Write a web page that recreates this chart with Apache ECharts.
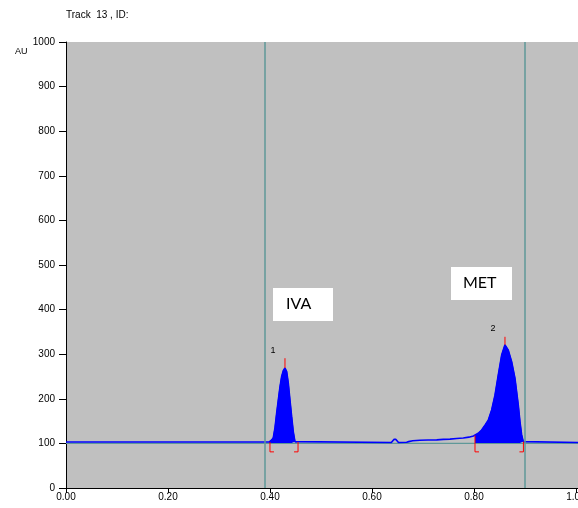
<!DOCTYPE html>
<html>
<head>
<meta charset="utf-8">
<script src="https://cdn.jsdelivr.net/npm/echarts@6/dist/echarts.min.js"></script>
<style>
html,body{margin:0;padding:0;background:#fff;}
#c{width:578px;height:508px;}
</style>
</head>
<body>
<div id="c"></div>
<script>
// ---- data ----
const titleText = 'Track  13 , ID:';
const yUnit = 'AU';
const xTicks = [0.0, 0.2, 0.4, 0.6, 0.8, 1.0];
const yTicks = [0, 100, 200, 300, 400, 500, 600, 700, 800, 900, 1000];

// baseline (flat) trace before/between/after peaks
const traceBeforeX = [0.000, 0.390, 0.398];
const traceBeforeY = [103, 103, 103];

const peak1X = [0.398, 0.400, 0.4035, 0.4065, 0.4098, 0.4131, 0.4163, 0.4196, 0.4229, 0.4261, 0.4294, 0.4327, 0.4359, 0.4392, 0.4425, 0.4457, 0.4490, 0.4520];
const peak1Y = [103, 104, 108, 113, 135, 168, 197, 227, 250, 263, 269, 261, 235, 197, 160, 126, 104, 102.5];

const traceMidX = [0.452, 0.638, 0.641, 0.643, 0.645, 0.647, 0.649, 0.652, 0.668, 0.672, 0.680, 0.694, 0.710, 0.727, 0.740, 0.753, 0.766, 0.779, 0.790, 0.799, 0.802];
const traceMidY = [102.5, 102, 105, 109, 111, 109, 105, 102, 102.5, 104, 106, 107, 107.5, 108, 109, 109.5, 111, 112, 114, 116.5, 118];

const peak2X = [0.802, 0.8084, 0.8151, 0.8216, 0.8280, 0.8347, 0.8412, 0.8476, 0.8543, 0.8608, 0.8673, 0.8739, 0.8804, 0.8869, 0.8902, 0.8935, 0.8967, 0.9000];
const peak2Y = [118, 122.6, 130, 141, 152, 175, 208, 253, 298, 321, 309, 283, 246, 186, 149, 119, 104, 102];

const traceAfterX = [0.900, 1.004];
const traceAfterY = [102, 102];

const baselineX = [0, 1.004];
const baselineY = [100, 100];
const markerLinesX = [0.39, 0.90];

// peak integration markers
const peakNames = ['1', '2'];
const peakStartX = [0.400, 0.802];
const peakStartY = [103, 118];
const peakEndX = [0.455, 0.897];
const peakEndY = [103, 104];
const peakApexX = [0.4294, 0.8608];
const peakApexY = [269, 321];
const peakTickTop = [291, 339];
const bracketBottom = 81;

// compound annotations
const compoundNames = ['IVA', 'MET'];

// ---- build ----
const zip = (xs, ys) => xs.map((x, i) => [x, ys[i]]);
const fullTrace = [].concat(
  zip(traceBeforeX, traceBeforeY),
  zip(peak1X, peak1Y),
  zip(traceMidX, traceMidY),
  zip(peak2X, peak2Y),
  zip(traceAfterX, traceAfterY)
);
const markerData = peakNames.map((n, i) => [peakStartX[i], peakStartY[i], peakEndX[i], peakEndY[i], peakApexX[i], peakApexY[i], peakTickTop[i], i]);

const FONT = "'Liberation Sans', Arial, sans-serif";
const TEAL = '#5f9898';
const BLUE = '#0000ff';
const RED = '#ff0000';

const chart = echarts.init(document.getElementById('c'), null, {renderer: 'canvas'});
chart.setOption({
  animation: false,
  backgroundColor: '#ffffff',
  title: {
    text: titleText, left: 66, top: 10, padding: 0,
    textStyle: {fontFamily: FONT, fontSize: 10, fontWeight: 'normal', color: '#000'}
  },
  grid: {left: 66, right: 0, top: 42, bottom: 20, show: true, backgroundColor: '#c0c0c0', borderWidth: 0,
         containLabel: false, outerBoundsMode: 'none'},
  xAxis: {
    type: 'value', min: 0, max: 1.004, interval: 0.2,
    axisLine: {show: true, onZero: false, lineStyle: {color: '#000', width: 1}},
    axisTick: {show: true, length: 5, lineStyle: {color: '#000'}},
    axisLabel: {
      fontFamily: FONT, fontSize: 10, color: '#000', margin: 4, hideOverlap: false,
      formatter: v => xTicks.some(t => Math.abs(t - v) < 1e-6) ? v.toFixed(2) : ''
    },
    splitLine: {show: false}
  },
  yAxis: {
    type: 'value', min: 0, max: 1000, interval: 100,
    axisLine: {show: true, lineStyle: {color: '#000', width: 1}},
    axisTick: {show: true, length: 7, lineStyle: {color: '#000'}},
    axisLabel: {
      fontFamily: FONT, fontSize: 10, color: '#000', margin: 11,
      formatter: v => yTicks.includes(v) ? String(v) : ''
    },
    splitLine: {show: false}
  },
  graphic: [
    {type: 'text', left: 15, top: 47, style: {text: yUnit, font: "9px 'Liberation Sans', Arial", fill: '#000'}},
    {type: 'group', left: 273, top: 288, children: [
      {type: 'rect', shape: {x: 0, y: 0, width: 60, height: 33}, style: {fill: '#fff'}},
      {type: 'text', x: 13, y: 8, style: {text: compoundNames[0], font: "16px Lato, 'Open Sans', sans-serif", fill: '#000'}}
    ]},
    {type: 'group', left: 451, top: 267, children: [
      {type: 'rect', shape: {x: 0, y: 0, width: 61, height: 33}, style: {fill: '#fff'}},
      {type: 'text', x: 12, y: 8, style: {text: compoundNames[1], font: "16px Lato, 'Open Sans', sans-serif", fill: '#000'}}
    ]}
  ],
  series: [
    {
      name: 'baseline', type: 'line', data: zip(baselineX, baselineY), showSymbol: false, z: 1,
      lineStyle: {color: TEAL, width: 1.2},
      markLine: {
        silent: true, symbol: 'none', label: {show: false},
        lineStyle: {color: TEAL, width: 1.5, type: 'solid'},
        data: markerLinesX.map(x => ({xAxis: x}))
      }
    },
    {
      name: 'peak1', type: 'line', data: zip(peak1X, peak1Y), showSymbol: false, z: 2,
      lineStyle: {color: BLUE, width: 1}, areaStyle: {color: BLUE, opacity: 1, origin: 101}
    },
    {
      name: 'peak2', type: 'line', data: zip(peak2X, peak2Y), showSymbol: false, z: 2,
      lineStyle: {color: BLUE, width: 1}, areaStyle: {color: BLUE, opacity: 1, origin: 101}
    },
    {
      name: 'signal', type: 'line', data: fullTrace, showSymbol: false, z: 3,
      lineStyle: {color: BLUE, width: 1.6}
    },
    {
      name: 'markers', type: 'custom', z: 4, data: markerData,
      renderItem: function (params, api) {
        const sx = api.value(0), sy = api.value(1), ex = api.value(2), ey = api.value(3);
        const ax = api.value(4), ay = api.value(5), at = api.value(6), idx = api.value(7);
        const s0 = api.coord([sx, sy]), s1 = api.coord([sx, bracketBottom]);
        const e0 = api.coord([ex, ey]), e1 = api.coord([ex, bracketBottom]);
        const a0 = api.coord([ax, ay]), a1 = api.coord([ax, at]);
        const ls = {stroke: RED, lineWidth: 1, fill: null};
        return {type: 'group', children: [
          {type: 'polyline', shape: {points: [s0, s1, [s1[0] + 4, s1[1]]]}, style: ls},
          {type: 'polyline', shape: {points: [e0, e1, [e1[0] - 4, e1[1]]]}, style: ls},
          {type: 'line', shape: {x1: a0[0], y1: a0[1], x2: a1[0], y2: a1[1]}, style: {stroke: RED, lineWidth: 1}},
          {type: 'text', x: a1[0] - 12, y: a1[1] - 8, style: {text: peakNames[idx], font: "9px 'Liberation Sans', Arial", fill: '#000', align: 'center', verticalAlign: 'middle'}}
        ]};
      }
    }
  ]
});
</script>
</body>
</html>
